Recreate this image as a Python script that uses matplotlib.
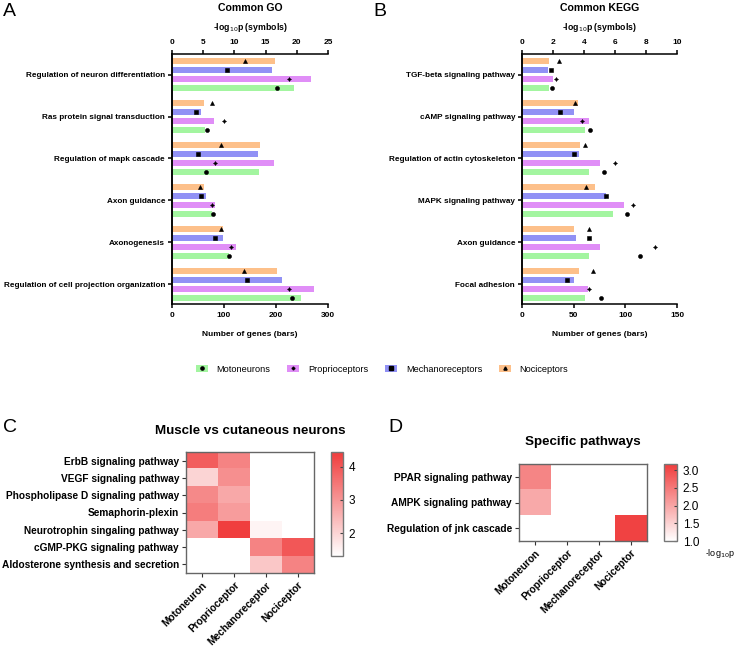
import numpy as np
import matplotlib
matplotlib.use('Agg')
import matplotlib.pyplot as plt
from matplotlib.colors import LinearSegmentedColormap
from matplotlib.patches import Patch
from matplotlib.lines import Line2D
from matplotlib.legend_handler import HandlerTuple

plt.rcParams['font.family'] = ['Liberation Sans', 'DejaVu Sans']

nan = np.nan

# Panel A - common GO terms
go_terms = ['Regulation of neuron differentiation', 'Ras protein signal transduction',
            'Regulation of mapk cascade', 'Axon guidance', 'Axonogenesis',
            'Regulation of cell projection organization']
go_genes_moto = [234, 64, 168, 77, 110, 248]
go_genes_prop = [267, 80, 197, 82, 124, 273]
go_genes_mech = [192, 55, 166, 66, 99, 212]
go_genes_noci = [198, 62, 170, 62, 99, 202]
go_logp_moto = [16.85, 5.6, 5.5, 6.65, 9.2, 19.2]
go_logp_prop = [18.7, 8.4, 6.9, 6.4, 9.5, 18.8]
go_logp_mech = [8.8, 3.8, 4.2, 4.6, 6.9, 12.0]
go_logp_noci = [11.75, 6.4, 7.8, 4.5, 7.8, 11.6]

# Panel B - common KEGG pathways
kegg_terms = ['TGF-beta signaling pathway', 'cAMP signaling pathway',
              'Regulation of actin cytoskeleton', 'MAPK signaling pathway',
              'Axon guidance', 'Focal adhesion']
kegg_genes_moto = [26, 61, 65, 88, 65, 61]
kegg_genes_prop = [30, 64.5, 75, 99, 75, 63.5]
kegg_genes_mech = [25, 50, 55, 81, 52, 50]
kegg_genes_noci = [26, 54, 56, 71, 50, 55]
kegg_logp_moto = [1.94, 4.4, 5.27, 6.77, 7.6, 5.1]
kegg_logp_prop = [2.2, 3.85, 6.0, 7.16, 8.6, 4.35]
kegg_logp_mech = [1.87, 2.43, 3.35, 5.4, 4.3, 2.9]
kegg_logp_noci = [2.37, 3.44, 4.04, 4.1, 4.3, 4.55]

series_names = ['Motoneurons', 'Proprioceptors', 'Mechanoreceptors', 'Nociceptors']
series_colors = ['#a3f5a0', '#e08ef7', '#9191f5', '#fdc08a']
series_markers = ['o', (4, 1, 0), 's', '^']

# Panel C - muscle vs cutaneous heatmap
c_rows = ['ErbB signaling pathway', 'VEGF signaling pathway',
          'Phospholipase D signaling pathway', 'Semaphorin-plexin',
          'Neurotrophin singaling pathway', 'cGMP-PKG signaling pathway',
          'Aldosterone synthesis and secretion']
heat_cols = ['Motoneuron', 'Proprioceptor', 'Mechanoreceptor', 'Nociceptor']
c_moto = [3.9, 2.0, 3.2, 3.4, 2.7, nan, nan]
c_prop = [3.3, 3.1, 2.7, 2.9, 4.4, nan, nan]
c_mech = [nan, nan, nan, nan, 1.5, 3.3, 2.2]
c_noci = [nan, nan, nan, nan, nan, 4.0, 3.3]

# Panel D - specific pathways heatmap
d_rows = ['PPAR signaling pathway', 'AMPK signaling pathway', 'Regulation of jnk cascade']
d_moto = [2.35, 1.95, nan]
d_prop = [nan, nan, nan]
d_mech = [nan, nan, nan]
d_noci = [nan, nan, 3.1]

W, H = 736, 647
fig = plt.figure(figsize=(W / 100, H / 100), dpi=100)


def px_axes(l, t, r, b):
    return fig.add_axes([l / W, 1 - b / H, (r - l) / W, (b - t) / H])


def bar_panel(l, r, terms, genes, logps, gmax, gticks, pmax, pticks, title):
    ax = px_axes(l, 54, r, 304)
    ax2 = ax.twiny()
    offsets = [0.32, 0.107, -0.107, -0.32]
    y = np.arange(len(terms))
    for g, p, c, m, off in zip(genes, logps, series_colors, series_markers, offsets):
        ax.barh(y + off, g, height=0.145, color=c, edgecolor='none')
        ax2.plot(p, y + off, ls='', marker=m, color='k', ms=2.9 if m != 's' else 2.5,
                 markeredgewidth=0.4)
    for a in (ax, ax2):
        a.set_ylim(5.47, -0.49)
        a.spines['right'].set_visible(False)
        for s in a.spines.values():
            s.set_linewidth(1.1)
    ax.spines['top'].set_visible(False)
    ax2.spines['bottom'].set_visible(False)
    ax.set_xlim(0, gmax)
    ax.set_xticks(gticks)
    ax2.set_xlim(0, pmax)
    ax2.set_xticks(pticks)
    ax.set_yticks(y)
    ax.set_yticklabels(terms, fontsize=5.85, fontweight='bold')
    ax.tick_params(axis='x', width=1.1, length=3, pad=3, labelsize=6.0)
    ax.tick_params(axis='y', width=1.1, length=3, pad=2)
    ax2.tick_params(axis='x', width=1.1, length=3, pad=3, labelsize=6.0)
    for lab in ax.get_xticklabels() + ax2.get_xticklabels():
        lab.set_fontweight('bold')
    cx = (l + r) / 2 / W
    fig.text(cx, 1 - 8 / H, title, ha='center', va='center', fontsize=7.6, fontweight='bold')
    fig.text(cx, 1 - 28 / H, '-log$_{10}$p (symbols)', ha='center', va='center',
             fontsize=6.3, fontweight='bold')
    fig.text(cx, 1 - 334 / H, 'Number of genes (bars)', ha='center', va='center',
             fontsize=6.0, fontweight='bold')


bar_panel(172, 328, go_terms,
          [go_genes_moto, go_genes_prop, go_genes_mech, go_genes_noci],
          [go_logp_moto, go_logp_prop, go_logp_mech, go_logp_noci],
          300, [0, 100, 200, 300], 25, [0, 5, 10, 15, 20, 25], 'Common GO')
bar_panel(522, 677, kegg_terms,
          [kegg_genes_moto, kegg_genes_prop, kegg_genes_mech, kegg_genes_noci],
          [kegg_logp_moto, kegg_logp_prop, kegg_logp_mech, kegg_logp_noci],
          150, [0, 50, 100, 150], 10, [0, 2, 4, 6, 8, 10], 'Common KEGG')

# legend shared by A and B
handles = []
for c, m in zip(series_colors, series_markers):
    handles.append((Patch(facecolor=c, edgecolor='none'),
                    Line2D([], [], ls='', marker=m, color='k', ms=2.3)))
fig.legend(handles, series_names, handler_map={tuple: HandlerTuple(ndivide=1)},
           loc='center', bbox_to_anchor=(382 / W, 1 - 369 / H), ncol=4, frameon=False,
           fontsize=6.6, handlelength=1.3, handleheight=0.75, columnspacing=1.8,
           handletextpad=1.0)

reds = LinearSegmentedColormap.from_list('wr', ['#ffffff', '#f03c3c'])
reds.set_bad('white')


def heat_panel(box, cbox, rows, cols, vmin, vmax, cticks, cfmt, title, title_xy):
    ax = px_axes(*box)
    data = np.ma.masked_invalid(np.array(cols).T)
    im = ax.imshow(data, cmap=reds, vmin=vmin, vmax=vmax, aspect='auto',
                   interpolation='nearest')
    ax.set_yticks(range(len(rows)))
    ax.set_yticklabels(rows, fontsize=7.3, fontweight='bold')
    ax.set_xticks(range(len(heat_cols)))
    ax.set_xticklabels(heat_cols, fontsize=7.3, fontweight='bold', rotation=45,
                       ha='right', rotation_mode='anchor')
    ax.tick_params(length=3, width=0.8, pad=2, color='#333333')
    for s in ax.spines.values():
        s.set_color('#666666')
        s.set_linewidth(1.0)
    cax = px_axes(*cbox)
    cb = fig.colorbar(im, cax=cax, ticks=cticks, format=cfmt)
    cb.outline.set_edgecolor('#777777')
    cb.outline.set_linewidth(1.0)
    cax.tick_params(labelsize=8.5, length=2.5, width=0.8, direction='in', color='#444444',
                    pad=4)
    fig.text(title_xy[0] / W, 1 - title_xy[1] / H, title, ha='center', va='center',
             fontsize=9.6, fontweight='bold')
    return cax


heat_panel((186, 452, 314, 573), (331, 452, 343, 556), c_rows,
           [c_moto, c_prop, c_mech, c_noci], 1.32, 4.44, [2, 3, 4], '%d',
           'Muscle vs cutaneous neurons', (250, 431))
heat_panel((519, 464, 647, 541), (664, 464, 677, 541), d_rows,
           [d_moto, d_prop, d_mech, d_noci], 1.0, 3.17, [1.0, 1.5, 2.0, 2.5, 3.0], '%.1f',
           'Specific pathways', (583, 442))
fig.text(720 / W, 1 - 554 / H, '-log$_{10}$p', ha='center', va='center', fontsize=6.5)

# panel letters
for letter, x, y in [('A', 3, 11), ('B', 373, 11), ('C', 3, 428), ('D', 388, 427)]:
    fig.text(x / W, 1 - y / H, letter, fontsize=14, ha='left', va='center')

fig.savefig('out.png', dpi=100)
